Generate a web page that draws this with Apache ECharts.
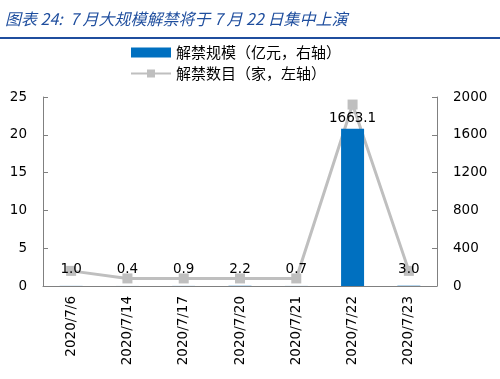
<!DOCTYPE html>
<html><head><meta charset="utf-8">
<script src="https://cdn.jsdelivr.net/npm/echarts@6/dist/echarts.min.js"></script>
<style>html,body{margin:0;padding:0;background:#fff}#c{width:500px;height:379px}</style>
</head><body><div id="c"></div>
<script>
const titleText = '图表 24:  7 月大规模解禁将于 7 月 22 日集中上演';
const categories = ['2020/7/6','2020/7/14','2020/7/17','2020/7/20','2020/7/21','2020/7/22','2020/7/23'];
const scaleValues = [1.0, 0.4, 0.9, 2.2, 0.7, 1663.1, 3.0];
const countValues = [2, 1, 1, 1, 1, 24, 2];
const barName = '解禁规模（亿元，右轴）';
const lineName = '解禁数目（家，左轴）';
const leftTicks = {min: 0, max: 25, interval: 5};
const rightTicks = {min: 0, max: 2000, interval: 400};

const font = 'DejaVu Sans';
const chart = echarts.init(document.getElementById('c'));
chart.setOption({
  animation: false,
  graphic: [
    {type: 'text', left: 5, top: 11, style: {text: titleText, font: 'italic 16px "Noto Sans CJK SC"', fill: '#1F4E9E'}},
    {type: 'rect', shape: {x: 0, y: 37, width: 500, height: 2}, style: {fill: '#1F4E9E'}}
  ],
  legend: {
    orient: 'vertical', left: 125, top: 40, itemGap: 6, itemWidth: 40, itemHeight: 10,
    textStyle: {fontFamily: 'Noto Sans CJK SC', fontSize: 15, color: '#000'},
    data: [{name: barName, icon: 'rect'}, {name: lineName}]
  },
  grid: {left: 43, right: 63, top: 97, bottom: 93},
  xAxis: {
    type: 'category', data: categories,
    axisLine: {lineStyle: {color: '#808080'}},
    axisTick: {inside: true, length: 5, lineStyle: {color: '#808080'}},
    axisLabel: {rotate: 90, fontFamily: font, fontSize: 13.5, color: '#000', margin: 10}
  },
  yAxis: [
    {type: 'value', position: 'left', min: leftTicks.min, max: leftTicks.max, interval: leftTicks.interval,
     splitLine: {show: false}, axisLine: {show: true, lineStyle: {color: '#808080'}},
     axisTick: {show: true, inside: true, length: 5, lineStyle: {color: '#808080'}},
     axisLabel: {fontFamily: font, fontSize: 13.5, color: '#000', margin: 16}},
    {type: 'value', position: 'right', min: rightTicks.min, max: rightTicks.max, interval: rightTicks.interval,
     splitLine: {show: false}, axisLine: {show: true, lineStyle: {color: '#808080'}},
     axisTick: {show: true, inside: true, length: 5, lineStyle: {color: '#808080'}},
     axisLabel: {fontFamily: font, fontSize: 13.5, color: '#000', margin: 16, formatter: v => String(v)}}
  ],
  series: [
    {name: barName, type: 'bar', yAxisIndex: 1, barWidth: 23,
     data: scaleValues.map(v => ({value: v, label: {distance: v > 100 ? 3 : 9}})),
     itemStyle: {color: '#0070C0'},
     label: {show: true, position: 'top', fontFamily: font, fontSize: 13.5, color: '#000', formatter: p => p.value.toFixed(1)},
     z: 3},
    {name: lineName, type: 'line', yAxisIndex: 0, data: countValues,
     symbol: 'rect', symbolSize: 10, lineStyle: {color: '#BFBFBF', width: 3},
     itemStyle: {color: '#BFBFBF'}, z: 2}
  ]
});
</script></body></html>
